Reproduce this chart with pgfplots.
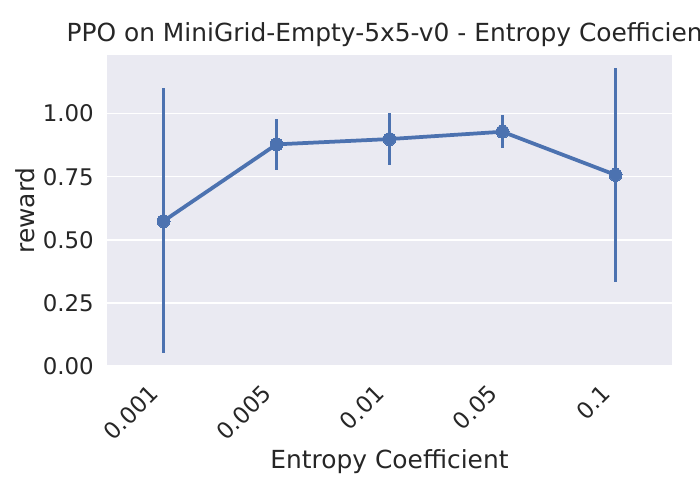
\documentclass[border=0pt]{standalone}
\usepackage{pgfplots}
\pgfplotsset{compat=1.18}
\usepackage{fontspec}
\setmainfont{DejaVu Sans}
\definecolor{sbbg}{HTML}{EAEAF2}
\definecolor{sbblue}{HTML}{4C72B0}
\definecolor{sbtext}{HTML}{262626}

\begin{document}
\begin{tikzpicture}[x=1pt,y=1pt]
\begin{axis}[
    at={(107pt,134pt)}, anchor=south west,
    scale only axis, width=565pt, height=311pt,
    xmin=-0.5, xmax=4.5, ymin=0, ymax=1.232,
    axis background/.style={fill=sbbg},
    axis line style={draw=none},
    major tick length=0pt,
    ymajorgrids, grid style={white, line width=1.5pt},
    xtick={0,1,2,3,4},
    xticklabels={0.001,0.005,0.01,0.05,0.1},
    ytick={0,0.25,0.5,0.75,1},
    /pgf/number format/assume math mode=true,
    yticklabel style={/pgf/number format/fixed, /pgf/number format/fixed zerofill,
        /pgf/number format/precision=2, inner sep=0pt, xshift=-13pt},
    ticklabel style={font=\fontsize{22.9}{27}\selectfont, text=sbtext},
    % shifts are taken in the rotated frame
    xticklabel style={rotate=45, anchor=north east, inner sep=0pt, xshift=-23pt, yshift=-1pt},
    xlabel={Entropy Coefficient},
    ylabel={reward},
    title={PPO on MiniGrid-Empty-5x5-v0 - Entropy Coefficient},
    label style={font=\fontsize{24.9}{29}\selectfont, text=sbtext},
    xlabel style={at={([yshift=-102pt]axis description cs:0.5,0)}, anchor=base},
    ylabel style={at={([xshift=-72pt]axis description cs:0,0.5)}, anchor=base},
    title style={font=\fontsize{24.9}{29}\selectfont, text=sbtext,
        at={([yshift=7pt]axis description cs:0.5,1)}, anchor=base},
]
\addplot[sbblue, line width=3.75pt, mark=*, mark size=6.5pt,
    mark options={fill=sbblue, draw=sbblue, line width=0pt},
    error bars/.cd, y dir=both, y explicit, error mark=none,
    error bar style={line width=3.75pt, sbblue}]
coordinates {
    (0,0.574) += (0,0.526) -= (0,0.524)
    (1,0.878) += (0,0.101) -= (0,0.101)
    (2,0.899) += (0,0.103) -= (0,0.103)
    (3,0.928) += (0,0.066) -= (0,0.063)
    (4,0.757) += (0,0.423) -= (0,0.425)
};
\end{axis}
\pgfresetboundingbox
\useasboundingbox (0,0) rectangle (700,500);
\end{tikzpicture}
\end{document}
